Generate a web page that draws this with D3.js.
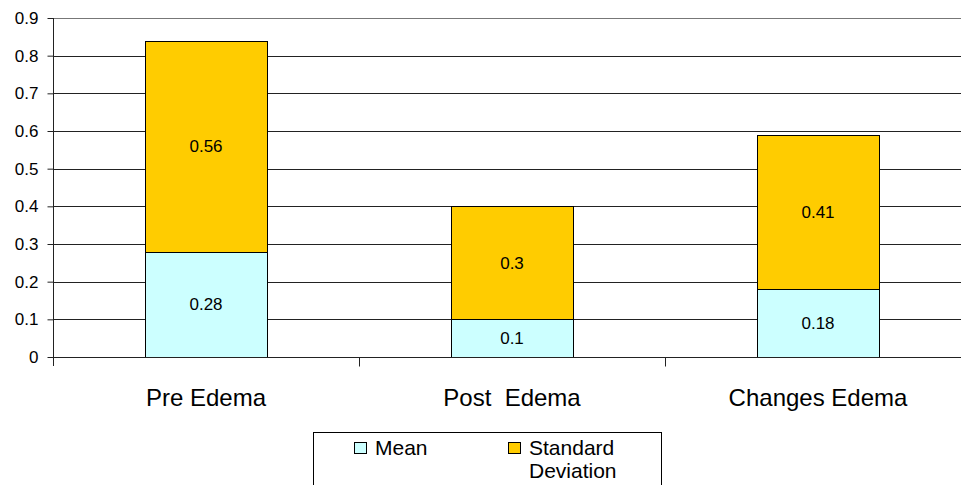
<!DOCTYPE html>
<html>
<head>
<meta charset="utf-8">
<script src="https://cdn.jsdelivr.net/npm/d3@7"></script>
<style>
  html, body { margin: 0; padding: 0; background: #fff; overflow: hidden; }
  svg { display: block; font-family: "Liberation Sans", Arial, sans-serif; }
</style>
</head>
<body>
<svg id="chart" width="961" height="485"></svg>
<script>
// Edema measurements: mean with standard deviation stacked on top
const categories = ["Pre Edema", "Post  Edema", "Changes Edema"];
const meanValues = [0.28, 0.1, 0.18];
const sdValues = [0.56, 0.3, 0.41];
const yTicks = [0, 0.1, 0.2, 0.3, 0.4, 0.5, 0.6, 0.7, 0.8, 0.9];
const seriesNames = ["Mean", "Standard Deviation"];
const seriesColors = ["#CCFFFF", "#FFCC00"];

(function draw() {
  const svg = d3.select("#chart");
  // the plot area runs slightly past the right edge of the canvas
  const plotL = 53, plotR = 971, plotT = 18, plotB = 357;

  const x = d3.scaleBand().domain(categories).range([plotL, plotR]).padding(0);
  const y = d3.scaleLinear().domain([0, 0.9]).range([plotB, plotT]);

  // horizontal gridlines
  svg.append("g")
    .selectAll("line")
    .data(yTicks.filter(d => d > 0))
    .join("line")
    .attr("x1", plotL).attr("x2", plotR)
    .attr("y1", d => Math.round(y(d)) + 0.5).attr("y2", d => Math.round(y(d)) + 0.5)
    .attr("stroke", d => d === 0.9 ? "#777" : "#222")
    .attr("stroke-width", 1);

  // stacked bars
  const stackData = categories.map((c, i) => ({ cat: c, mean: meanValues[i], sd: sdValues[i] }));
  const stack = d3.stack().keys(["mean", "sd"])(stackData);
  const barW = x.bandwidth() * 0.4;

  const layers = svg.append("g").selectAll("g")
    .data(stack)
    .join("g")
    .attr("fill", (d, i) => seriesColors[i]);

  layers.selectAll("rect")
    .data(d => d)
    .join("rect")
    .attr("x", d => Math.round(x(d.data.cat) + (x.bandwidth() - barW) / 2) + 0.5)
    .attr("width", Math.round(barW))
    .attr("y", d => Math.round(y(d[1])) + 0.5)
    .attr("height", d => Math.round(y(d[0])) - Math.round(y(d[1])))
    .attr("stroke", "#000")
    .attr("stroke-width", 1);

  // value labels centred in each segment
  layers.each(function(layer) {
    d3.select(this).selectAll("text")
      .data(layer)
      .join("text")
      .attr("x", d => x(d.data.cat) + x.bandwidth() / 2)
      .attr("y", d => (y(d[0]) + y(d[1])) / 2)
      .attr("dy", "0.35em")
      .attr("text-anchor", "middle")
      .attr("font-size", 17)
      .attr("fill", "#000")
      .text(d => String(d.data[layer.key]));
  });

  // y axis
  const yAxis = d3.axisLeft(y).tickValues(yTicks).tickSize(6).tickPadding(9)
    .tickFormat(d => d === 0 ? "0" : d3.format(".1f")(d));
  const gy = svg.append("g").attr("transform", `translate(${plotL + 0.5},0)`).call(yAxis);
  gy.select(".domain").attr("stroke", "#222").attr("d", `M0,${plotT}V${plotB + 9}`);
  gy.selectAll(".tick line").attr("stroke", "#222");
  gy.selectAll(".tick text").attr("font-size", 17).attr("fill", "#000")
    .attr("font-family", "Liberation Sans, Arial, sans-serif");

  // x axis
  const gx = svg.append("g").attr("transform", `translate(0,${Math.round(y(0)) + 0.5})`);
  gx.append("line").attr("x1", plotL).attr("x2", plotR).attr("stroke", "#222");
  const boundaries = categories.map(c => x(c)).slice(1);
  gx.selectAll("line.sep")
    .data(boundaries)
    .join("line")
    .attr("class", "sep")
    .attr("x1", d => Math.round(d) + 0.5).attr("x2", d => Math.round(d) + 0.5)
    .attr("y1", 0).attr("y2", 9)
    .attr("stroke", "#222");
  gx.selectAll("text")
    .data(categories)
    .join("text")
    .attr("x", d => x(d) + x.bandwidth() / 2)
    .attr("y", 48)
    .attr("text-anchor", "middle")
    .attr("font-size", 24)
    .style("white-space", "pre")
    .attr("fill", "#000")
    .text(d => d);

  // legend
  const lg = svg.append("g");
  lg.append("rect")
    .attr("x", 313.5).attr("y", 432.5).attr("width", 348).attr("height", 60)
    .attr("fill", "#fff").attr("stroke", "#000");
  const legendX = [354, 508];
  seriesNames.forEach((name, i) => {
    lg.append("rect")
      .attr("x", legendX[i] + 0.5).attr("y", 442.5).attr("width", 12).attr("height", 11)
      .attr("fill", seriesColors[i]).attr("stroke", "#000");
    const words = i === 1 ? ["Standard", "Deviation"] : [name];
    const t = lg.append("text")
      .attr("x", legendX[i] + 21).attr("y", 455)
      .attr("font-size", 21).attr("fill", "#000");
    words.forEach((w, j) => {
      t.append("tspan").attr("x", legendX[i] + 21).attr("dy", j === 0 ? 0 : 23).text(w);
    });
  });
})();
</script>
</body>
</html>
